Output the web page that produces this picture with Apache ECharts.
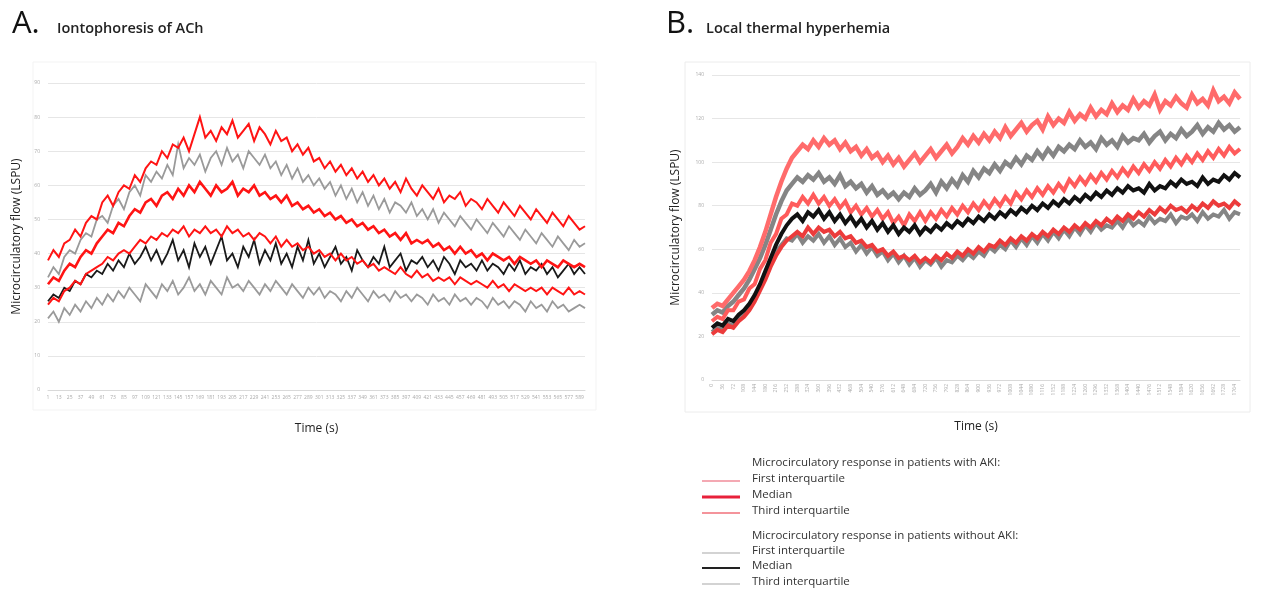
<!DOCTYPE html>
<html>
<head>
<meta charset="utf-8">
<script src="https://cdn.jsdelivr.net/npm/echarts@6/dist/echarts.min.js"></script>
<style>
html,body{margin:0;padding:0;background:#fff;}
#chart{width:1277px;height:596px;}
</style>
</head>
<body>
<div id="chart"></div>
<script>
// ---------- Panel A: Iontophoresis of ACh ----------
const yTicksA = [0, 90, 10];  // min, max, interval
const akiQ1_A = [25,27,26,29,30,32,31,34,35,36, 37,39,38,40,41,40,42,44,43,45, 44,46,45,47,46,48,45,47,46,48, 46,47,45,48,46,47,45,46,44,46, 45,43,45,42,44,42,43,41,42,40, 41,39,40,38,40,38,39,37,38,36, 37,35,36,35,34,36,34,33,35,33, 34,32,33,32,33,31,33,32,31,32, 31,30,32,30,31,29,31,30,29,30, 29,30,28,30,29,28,30,28,29,28];
const akiMed_A = [31,33,32,35,37,36,39,41,40,43, 45,47,46,49,48,51,53,52,55,56, 54,57,58,56,59,57,60,58,61,59, 57,60,58,59,61,57,59,58,60,57, 58,56,57,55,57,54,55,53,54,52, 53,51,52,50,51,49,50,48,49,47, 48,46,47,45,46,44,46,43,44,43, 44,42,43,41,42,40,42,40,41,39, 40,38,40,39,38,39,37,39,38,37, 38,36,38,37,36,38,37,36,37,36];
const akiQ3_A = [38,41,39,43,44,47,45,49,51,50, 55,57,54,58,60,59,63,61,65,67, 66,70,68,72,71,74,70,75,80,74, 76,73,77,75,79,74,76,78,73,77, 75,72,76,73,74,70,72,69,71,67, 68,65,67,64,66,63,65,62,64,61, 63,60,62,59,61,58,62,59,57,60, 58,56,59,55,57,56,58,54,56,55, 53,56,54,52,55,53,51,54,52,50, 53,51,49,52,50,48,51,49,47,48];
const noQ1_A = [21,23,20,24,22,25,23,26,24,27, 25,28,26,29,27,30,28,26,31,29, 27,31,29,32,28,30,33,29,31,28, 32,30,28,33,30,31,29,32,30,28, 31,29,32,30,28,31,29,27,30,28, 30,27,29,28,26,29,27,30,28,26, 29,27,28,26,29,27,28,26,28,27, 25,28,26,27,25,28,26,27,25,27, 26,24,27,25,26,24,26,25,23,26, 24,25,23,26,24,25,23,24,25,24];
const noMed_A = [26,28,27,30,29,32,31,34,33,35, 34,37,35,38,36,40,37,39,42,38, 41,37,40,44,38,41,36,43,39,42, 37,41,45,38,40,36,42,39,44,37, 41,38,43,37,40,36,42,38,44,37, 40,36,39,42,37,39,35,41,38,36, 39,37,42,36,38,40,35,38,37,39, 36,38,35,39,37,34,38,36,37,35, 38,35,37,36,34,37,35,38,34,36, 35,37,34,36,33,35,37,34,36,34];
const noQ3_A = [33,36,34,39,41,40,44,46,45,50, 51,49,54,56,53,58,60,57,63,61, 64,62,66,63,72,65,68,66,69,64, 68,70,66,71,67,69,65,70,68,66, 69,65,67,63,66,62,65,61,63,60, 62,59,61,57,60,56,59,55,58,54, 57,53,56,52,55,54,52,55,51,53, 50,53,49,52,50,48,51,49,47,50, 48,46,49,47,45,48,46,44,47,45, 43,46,44,42,45,43,41,44,42,43];

// ---------- Panel B: Local thermal hyperhemia ----------
const yTicksB = [0, 140, 20];
const akiQ1_B = [21,23,22,25,24,27,29,32,36,41, 46,52,57,61,64,66,68,66,70,67, 70,68,69,66,68,65,66,63,64,61, 62,59,60,57,59,56,57,55,57,54, 56,54,57,55,58,56,59,57,60,58, 61,59,62,61,64,62,65,63,66,64, 67,65,68,66,69,67,70,68,71,69, 72,70,73,71,74,72,75,73,76,74, 77,75,78,76,79,77,80,78,79,77, 80,78,81,79,82,80,81,79,82,80];
const akiMed_B = [27,29,28,32,32,36,37,42,44,51, 55,63,67,74,76,81,80,84,81,85, 81,84,80,83,79,82,77,80,76,79, 75,78,74,77,72,75,71,76,73,77, 73,77,74,78,75,79,76,80,77,81, 78,82,79,83,80,84,81,86,83,87, 84,88,85,89,86,90,87,92,89,93, 90,94,91,95,92,96,93,97,94,98, 95,99,96,100,97,101,98,102,99,103, 100,104,101,105,102,106,103,107,104,106];
const akiQ3_B = [33,35,34,37,40,43,46,50,55,61, 68,76,84,91,97,102,105,108,106,110, 107,111,108,110,106,109,105,107,103,106, 102,104,100,103,99,102,98,101,104,100, 103,106,102,105,108,104,107,111,108,112, 109,113,110,114,111,116,112,115,118,114, 117,119,115,121,117,120,118,123,119,122, 120,125,121,124,122,127,123,126,124,129, 125,128,126,131,124,128,126,130,127,125, 131,127,129,126,133,128,130,127,132,129];
const noQ1_B = [22,24,23,26,25,28,30,33,37,42, 48,54,59,62,65,64,67,63,66,64, 67,63,66,62,65,61,63,59,62,58, 61,57,59,55,58,54,57,53,56,52, 55,53,56,52,55,54,57,55,58,56, 59,57,61,59,62,60,64,61,65,62, 66,63,67,64,68,65,69,66,70,67, 71,68,72,69,71,70,73,70,74,71, 73,71,75,72,74,73,76,72,75,74, 76,73,77,74,76,75,78,74,77,76];
const noMed_B = [24,26,25,28,27,30,32,35,39,44, 50,56,62,67,71,74,76,73,77,75, 78,74,77,73,76,72,75,71,74,70, 73,69,72,68,71,67,70,68,71,67, 70,68,71,69,72,70,73,71,74,72, 75,73,76,74,77,75,78,76,79,77, 80,78,81,79,82,80,83,81,84,82, 85,83,86,84,87,85,88,86,89,87, 88,86,90,87,89,88,91,89,92,90, 91,89,93,90,92,91,94,92,95,93];
const noQ3_B = [30,32,31,34,36,39,42,46,51,56, 62,69,76,82,87,90,93,91,94,92, 95,91,93,90,94,89,91,88,90,86, 89,85,87,84,86,83,86,84,88,85, 87,90,86,91,88,92,89,94,91,96, 93,97,95,99,96,100,98,102,99,103, 101,105,102,106,103,107,105,108,106,110, 107,109,106,111,108,110,107,112,109,111, 110,113,109,112,114,110,113,111,115,112, 114,117,113,116,114,118,115,117,114,116];

// time categories (s): evenly sampled recording
const timeStartA = 1, timeStepA = 6;
const timeStartB = 0, timeStepB = 18;
const timeA = akiMed_A.map((_, i) => String(timeStartA + i * timeStepA));
const timeB = akiMed_B.map((_, i) => String(timeStartB + i * timeStepB));

const FONT = '"Open Sans", "Liberation Sans", sans-serif';
const RED = '#ff1414';
const BLACK = '#111111';

function line(name, data, xi, color, width, z) {
  return {
    name, type: 'line', data, xAxisIndex: xi, yAxisIndex: xi,
    showSymbol: false, symbol: 'none', smooth: false, z: z,
    lineStyle: { color, width, join: 'miter' }, animation: false
  };
}

const chart = echarts.init(document.getElementById('chart'), null, { renderer: 'canvas' });

const xAxisCommon = {
  type: 'category', boundaryGap: false,
  axisLine: { show: true, lineStyle: { color: '#d9d9d9' } },
  axisTick: { show: false },
  nameLocation: 'middle',
  nameTextStyle: { fontFamily: FONT, fontSize: 12, color: '#222' }
};
const yAxisCommon = {
  type: 'value',
  axisLine: { show: false }, axisTick: { show: false },
  splitLine: { show: true, lineStyle: { color: '#e6e6e6', width: 1 } },
  nameLocation: 'middle',
  nameTextStyle: { fontFamily: FONT, fontSize: 12, color: '#222' },
  axisLabel: { fontSize: 5, color: '#aaa', fontFamily: FONT, margin: 8 }
};

chart.setOption({
  backgroundColor: '#ffffff',
  animation: false,
  grid: [
    { left: 48, top: 83, width: 537, height: 307 },
    { left: 712, top: 75, width: 528, height: 305 }
  ],
  xAxis: [
    Object.assign({}, xAxisCommon, {
      gridIndex: 0, data: timeA, name: 'Time (s)', nameGap: 33,
      axisLabel: { interval: 1, fontSize: 5, color: '#aaa', fontFamily: FONT, margin: 5 }
    }),
    Object.assign({}, xAxisCommon, {
      gridIndex: 1, data: timeB, name: 'Time (s)', nameGap: 41,
      axisLabel: { interval: 1, rotate: 90, fontSize: 5, color: '#aaa', fontFamily: FONT, margin: 4 }
    })
  ],
  yAxis: [
    Object.assign({}, yAxisCommon, {
      gridIndex: 0, min: yTicksA[0], max: yTicksA[1], interval: yTicksA[2],
      name: 'Microcirculatory flow (LSPU)', nameGap: 25
    }),
    Object.assign({}, yAxisCommon, {
      gridIndex: 1, min: yTicksB[0], max: yTicksB[1], interval: yTicksB[2],
      name: 'Microcirculatory flow (LSPU)', nameGap: 30
    })
  ],
  series: [
    line('No AKI Q1', noQ1_A, 0, '#9a9a9a', 1.8, 2),
    line('No AKI Q3', noQ3_A, 0, '#9a9a9a', 1.8, 2),
    line('No AKI median', noMed_A, 0, '#1a1a1a', 1.8, 3),
    line('AKI Q1', akiQ1_A, 0, RED, 2, 4),
    line('AKI Q3', akiQ3_A, 0, RED, 2, 4),
    line('AKI median', akiMed_A, 0, RED, 2.6, 5),

    line('No AKI Q1 B', noQ1_B, 1, '#858585', 4, 2),
    line('No AKI Q3 B', noQ3_B, 1, '#858585', 4.5, 2),
    line('AKI Q3 B', akiQ3_B, 1, '#ff6b6b', 4.5, 3),
    line('AKI Q1 B', akiQ1_B, 1, '#ec3b3b', 4, 3),
    line('AKI median B', akiMed_B, 1, '#ff5c5c', 4, 4),
    line('No AKI median B', noMed_B, 1, BLACK, 4, 5)
  ],
  graphic: [
    { type: 'rect', shape: { x: 33, y: 62, width: 563, height: 348 }, style: { fill: 'none', stroke: '#f3f3f3', lineWidth: 1 }, silent: true },
    { type: 'rect', shape: { x: 685, y: 62, width: 565, height: 350 }, style: { fill: 'none', stroke: '#ececec', lineWidth: 1 }, silent: true },
    { type: 'text', left: 12, top: 9, style: { text: 'A.', fontFamily: FONT, fontSize: 31, fontWeight: 500, fill: '#111' } },
    { type: 'text', left: 57, top: 21, style: { text: 'Iontophoresis of ACh', fontFamily: FONT, fontSize: 14.5, fontWeight: 600, fill: '#222' } },
    { type: 'text', left: 666, top: 9, style: { text: 'B.', fontFamily: FONT, fontSize: 31, fontWeight: 500, fill: '#111' } },
    { type: 'text', left: 706, top: 21, style: { text: 'Local thermal hyperhemia', fontFamily: FONT, fontSize: 14.5, fontWeight: 600, fill: '#222' } },

    { type: 'text', left: 752, top: 457, style: { text: 'Microcirculatory response in patients with AKI:', fontFamily: FONT, fontSize: 11.5, fill: '#333' } },
    { type: 'line', shape: { x1: 702, y1: 481, x2: 740, y2: 481 }, style: { stroke: '#f08c9a', lineWidth: 1.5 } },
    { type: 'text', left: 752, top: 473, style: { text: 'First interquartile', fontFamily: FONT, fontSize: 11.5, fill: '#333' } },
    { type: 'line', shape: { x1: 702, y1: 497, x2: 740, y2: 497 }, style: { stroke: '#e8203a', lineWidth: 3 } },
    { type: 'text', left: 752, top: 489, style: { text: 'Median', fontFamily: FONT, fontSize: 11.5, fill: '#333' } },
    { type: 'line', shape: { x1: 702, y1: 513, x2: 740, y2: 513 }, style: { stroke: '#f0707a', lineWidth: 1.5 } },
    { type: 'text', left: 752, top: 505, style: { text: 'Third interquartile', fontFamily: FONT, fontSize: 11.5, fill: '#333' } },

    { type: 'text', left: 752, top: 530, style: { text: 'Microcirculatory response in patients without AKI:', fontFamily: FONT, fontSize: 11.5, fill: '#333' } },
    { type: 'line', shape: { x1: 702, y1: 553, x2: 740, y2: 553 }, style: { stroke: '#c4c4c4', lineWidth: 1.5 } },
    { type: 'text', left: 752, top: 545, style: { text: 'First interquartile', fontFamily: FONT, fontSize: 11.5, fill: '#333' } },
    { type: 'line', shape: { x1: 702, y1: 568, x2: 740, y2: 568 }, style: { stroke: '#222', lineWidth: 2 } },
    { type: 'text', left: 752, top: 560, style: { text: 'Median', fontFamily: FONT, fontSize: 11.5, fill: '#333' } },
    { type: 'line', shape: { x1: 702, y1: 584, x2: 740, y2: 584 }, style: { stroke: '#c4c4c4', lineWidth: 1.5 } },
    { type: 'text', left: 752, top: 576, style: { text: 'Third interquartile', fontFamily: FONT, fontSize: 11.5, fill: '#333' } }
  ]
});
</script>
</body>
</html>
